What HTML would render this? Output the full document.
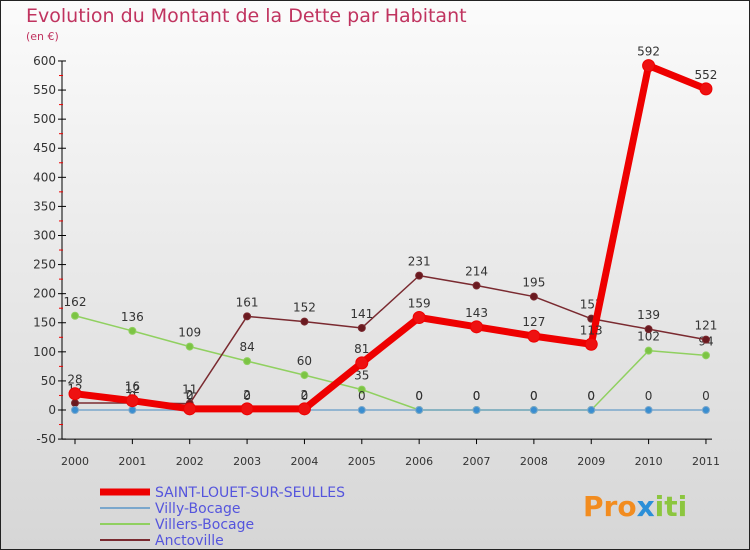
<!DOCTYPE html>
<html><head><meta charset="utf-8"><style>
body{margin:0;background:#fff}
svg{display:block;font-family:"DejaVu Sans","Liberation Sans",sans-serif}
</style></head><body>
<svg width="750" height="550" viewBox="0 0 750 550" xmlns="http://www.w3.org/2000/svg">
<defs><linearGradient id="bg" x1="0" y1="0" x2="0" y2="1"><stop offset="0" stop-color="#fbfbfb"/><stop offset="1" stop-color="#d6d6d6"/></linearGradient></defs>
<rect x="0.5" y="0.5" width="749" height="549" fill="url(#bg)" stroke="#222"/>
<text x="26" y="22" font-size="19" fill="#c0335f">Evolution du Montant de la Dette par Habitant</text>
<text x="26" y="40" font-size="11" fill="#c0335f">(en €)</text>
<g id="axes"></g><g id="series"></g><g id="legend"></g>
<text x="583" y="516" font-size="28" font-weight="bold" fill="#f28c1f">Pro<tspan fill="#2b8fd8">x</tspan><tspan fill="#8cc63f">iti</tspan></text>
</svg>
<script>
const years=["2000","2001","2002","2003","2004","2005","2006","2007","2008","2009","2010","2011"];
const saint=[28,16,2,2,2,81,159,143,127,113,592,552];
const villy=[0,0,0,0,0,0,0,0,0,0,0,0];
const villers=[162,136,109,84,60,35,0,0,0,0,102,94];
const anct=[12,12,11,161,152,141,231,214,195,157,139,121];
const yTicks=[-50,0,50,100,150,200,250,300,350,400,450,500,550,600];
const NS="http://www.w3.org/2000/svg";
const X=i=>75+i*57.36, Y=v=>410-v*0.5817;
function el(t,a,p){const e=document.createElementNS(NS,t);for(const k in a)e.setAttribute(k,a[k]);p.appendChild(e);return e;}
const ax=document.getElementById('axes');
let a=el('line',{x1:62,y1:Y(600),x2:62,y2:Y(-50),stroke:'#000'},ax);

yTicks.forEach(v=>{el('line',{x1:58,x2:66,y1:Y(v),y2:Y(v),stroke:'#000'},ax);
 if(v<600)el('line',{x1:59,x2:63,y1:Y(v+25),y2:Y(v+25),stroke:'#e00'},ax);
 const t=el('text',{x:56,y:Y(v)+4,'text-anchor':'end','font-size':12,fill:'#333'},ax);t.textContent=v;
 });
a=el('line',{x1:62,y1:Y(-50),x2:712,y2:Y(-50),stroke:'#000'},ax);

years.forEach((y,i)=>{el('line',{x1:X(i),x2:X(i),y1:Y(-50),y2:Y(-50)+5,stroke:'#000'},ax);
 const t=el('text',{x:X(i),y:465,'text-anchor':'middle','font-size':11,fill:'#333'},ax);t.textContent=y;
 });
const sg=document.getElementById('series');
function series(d,name,col,w,r,dot,labels){
 const g=el('g',{},sg);
 el('polyline',{points:d.map((v,i)=>X(i)+','+Y(v)).join(' '),fill:'none',stroke:col,'stroke-width':w,'stroke-linejoin':'round'},g);
 d.forEach((v,i)=>{const c=el('circle',{cx:X(i),cy:Y(v),r:r,fill:dot,stroke:col,'stroke-width':1},g);
  
  if(labels){const t=el('text',{x:X(i),y:Y(v)-10,'text-anchor':'middle','font-size':12,fill:'#333'},g);t.textContent=v;
  }});
}
series(villers,'villers-bocage-series','#90d060',1.5,3.5,'#7cc444',true);
series(anct,'anctoville-series','#7a2a30',1.5,3.5,'#6a1a20',true);
series(villy,'villy-bocage-series','#7aa7cc',1.5,3.5,'#3a8ed0',true);
series(saint,'saint-louet-series','#ee0000',7,6,'#ee1111',true);
const lg=document.getElementById('legend');
[['SAINT-LOUET-SUR-SEULLES','#ee0000',7],['Villy-Bocage','#7aa7cc',2],['Villers-Bocage','#90d060',2],['Anctoville','#7a2a30',2]].forEach((e,i)=>{
 const g=el('g',{},lg);
 const y=492+i*16;el('line',{x1:100,x2:150,y1:y,y2:y,stroke:e[1],'stroke-width':e[2]},g);
 const t=el('text',{x:155,y:y+5,'font-size':14,fill:'#5555dd'},g);t.textContent=e[0];});
</script>
</body></html>
